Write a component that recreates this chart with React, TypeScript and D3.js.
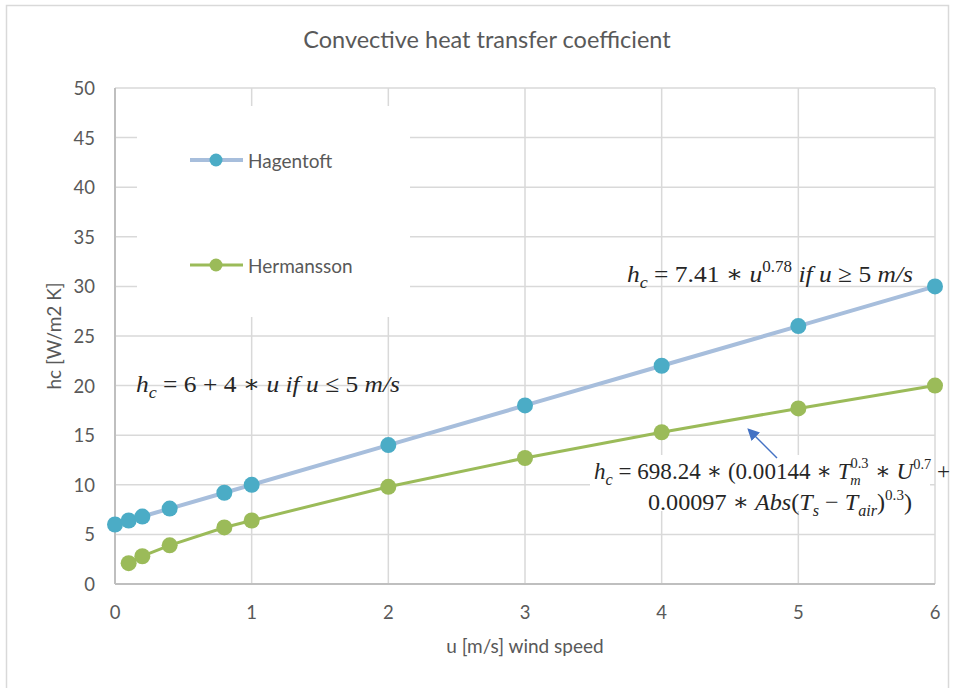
import * as d3 from 'd3';
import React from 'react';

// ------------------------------------------------------------
// data
// ------------------------------------------------------------
const hagentoftU = [0, 0.1, 0.2, 0.4, 0.8, 1, 2, 3, 4, 5, 6];
const hagentoftHc = [6, 6.4, 6.8, 7.6, 9.2, 10, 14, 18, 22, 26, 30];

const hermanssonU = [0.1, 0.2, 0.4, 0.8, 1, 2, 3, 4, 5, 6];
const hermanssonHc = [2.1, 2.8, 3.9, 5.7, 6.4, 9.8, 12.7, 15.3, 17.7, 20.0];

const xTicks = [0, 1, 2, 3, 4, 5, 6];
const yTicks = [0, 5, 10, 15, 20, 25, 30, 35, 40, 45, 50];

const seriesNames = ['Hagentoft', 'Hermansson'];

const W = 956;
const H = 688;
const margin = { left: 115, right: 21, top: 88, bottom: 104 };

const uiFont = 'Lato, "Open Sans", sans-serif';
const mathFont = '"Liberation Serif", "DejaVu Serif", serif';
const labelColor = '#595959';

function App() {
  const x = d3.scaleLinear([0, 6], [margin.left, W - margin.right]);
  const y = d3.scaleLinear([0, 50], [H - margin.bottom, margin.top]);

  const hagentoft = hagentoftU.map((u, i) => [u, hagentoftHc[i]] as [number, number]);
  const hermansson = hermanssonU.map((u, i) => [u, hermanssonHc[i]] as [number, number]);

  const line = d3.line<[number, number]>()
    .x(d => x(d[0]))
    .y(d => y(d[1]));

  const series = [
    { name: seriesNames[0], data: hagentoft, stroke: '#a7bedc', width: 4, marker: '#4bacc6' },
    { name: seriesNames[1], data: hermansson, stroke: '#9bbb59', width: 3, marker: '#9bbb59' }
  ];

  const [x0, x1] = x.range();
  const [y0, y1] = y.range();

  // legend + lower formula sit on white boxes that hide the grid
  const legendBox = { x: 137, y: 106, w: 273, h: 211 };
  const formulaBox = { x: 590, y: 455, w: 340, h: 56 };

  return (
    <svg width={W} height={H} style={{ position: 'absolute', left: 0, top: 0 }}>
      <defs>
        <marker id="arrowHead" viewBox="0 0 10 10" refX="8" refY="5"
          markerWidth="8" markerHeight="8" orient="auto-start-reverse">
          <path d="M0,0 L10,5 L0,10 z" fill="#4472c4" />
        </marker>
      </defs>

      <rect width={W} height={H} fill="#fff" />
      <rect x={6.5} y={5.5} width={942} height={720} fill="none" stroke="#d9d9d9" strokeWidth={1.5} />

      <text x={487} y={42} textAnchor="middle" dominantBaseline="middle"
        fontFamily={uiFont} fontSize={23.5} fill={labelColor}>
        Convective heat transfer coefficient
      </text>

      {/* grid */}
      <g stroke="#d9d9d9" strokeWidth={1.5}>
        {yTicks.filter(t => t > 0).map(t => (
          <line key={'gy' + t} x1={x0} x2={x1} y1={y(t)} y2={y(t)} />
        ))}
        {xTicks.filter(t => t > 0).map(t => (
          <line key={'gx' + t} x1={x(t)} x2={x(t)} y1={y0} y2={y1} />
        ))}
      </g>

      <rect x={legendBox.x} y={legendBox.y} width={legendBox.w} height={legendBox.h} fill="#fff" />

      {/* axes */}
      <g stroke="#bfbfbf" strokeWidth={2}>
        <line x1={x0} x2={x0} y1={y0} y2={y1} />
        <line x1={x0} x2={x1} y1={y0} y2={y0} />
      </g>

      <g fontFamily={uiFont} fontSize={18.5} fill={labelColor}>
        {yTicks.map(t => (
          <text key={'ty' + t} x={x0 - 20} y={y(t)} textAnchor="end" dominantBaseline="central">{t}</text>
        ))}
        {xTicks.map(t => (
          <text key={'tx' + t} x={x(t)} y={y0 + 28} textAnchor="middle" dominantBaseline="central">{t}</text>
        ))}
        <text x={(x0 + x1) / 2} y={645} fontSize={19} textAnchor="middle" dominantBaseline="central">u [m/s] wind speed</text>
        <text transform={`translate(53,${(y0 + y1) / 2}) rotate(-90)`} fontSize={19} textAnchor="middle"
          dominantBaseline="central">hc [W/m2 K]</text>
      </g>

      {/* series */}
      {series.map(s => (
        <g key={s.name}>
          <path d={line(s.data) || ''} fill="none" stroke={s.stroke} strokeWidth={s.width} />
          {s.data.map((d, i) => (
            <circle key={i} cx={x(d[0])} cy={y(d[1])} r={8} fill={s.marker} />
          ))}
        </g>
      ))}

      {/* legend */}
      {series.map((s, i) => {
        const ly = [160, 265][i];
        return (
          <g key={'lg' + s.name}>
            <line x1={190} x2={243} y1={ly} y2={ly} stroke={s.stroke} strokeWidth={s.width} />
            <circle cx={216} cy={ly} r={6.5} fill={s.marker} />
            <text x={248} y={ly} dominantBaseline="central" fontFamily={uiFont}
              fontSize={19} fill={labelColor}>{s.name}</text>
          </g>
        );
      })}

      {/* formulas */}
      <g fontFamily={mathFont} fontSize={24} fill="#262626">
        <text x={627} y={282} textLength={286} lengthAdjust="spacingAndGlyphs">
          <tspan fontStyle="italic">h</tspan>
          <tspan fontStyle="italic" fontSize={17} dy={6}>c</tspan>
          <tspan dy={-6}> = 7.41 ∗ </tspan>
          <tspan fontStyle="italic">u</tspan>
          <tspan fontSize={16} dy={-10}>0.78</tspan>
          <tspan fontStyle="italic" dy={10}> if u </tspan>
          <tspan>≥ 5 </tspan>
          <tspan fontStyle="italic">m/s</tspan>
        </text>

        <text x={136} y={392} textLength={264} lengthAdjust="spacingAndGlyphs">
          <tspan fontStyle="italic">h</tspan>
          <tspan fontStyle="italic" fontSize={17} dy={6}>c</tspan>
          <tspan dy={-6}> = 6 + 4 ∗ </tspan>
          <tspan fontStyle="italic">u if u </tspan>
          <tspan>≤ 5 </tspan>
          <tspan fontStyle="italic">m/s</tspan>
        </text>

        <rect x={formulaBox.x} y={formulaBox.y} width={formulaBox.w} height={formulaBox.h} fill="#fff" />

        <text x={594} y={479} textLength={356} lengthAdjust="spacingAndGlyphs">
          <tspan fontStyle="italic">h</tspan>
          <tspan fontStyle="italic" fontSize={17} dy={6}>c</tspan>
          <tspan dy={-6}> = 698.24 ∗ (0.00144 ∗ </tspan>
          <tspan fontStyle="italic">T</tspan>
          <tspan fontSize={15} dy={-11}>0.3</tspan>
          <tspan fontStyle="italic" fontSize={15} dx={-19} dy={17}>m</tspan>
          <tspan dx={9} dy={-6}> ∗ </tspan>
          <tspan fontStyle="italic">U</tspan>
          <tspan fontSize={15} dy={-10}>0.7</tspan>
          <tspan dy={10}> +</tspan>
        </text>
        <text x={648} y={510} textLength={264} lengthAdjust="spacingAndGlyphs">
          <tspan>0.00097 ∗ </tspan>
          <tspan fontStyle="italic">Abs</tspan>
          <tspan>(</tspan>
          <tspan fontStyle="italic">T</tspan>
          <tspan fontStyle="italic" fontSize={16} dy={6}>s</tspan>
          <tspan dy={-6}> − </tspan>
          <tspan fontStyle="italic">T</tspan>
          <tspan fontStyle="italic" fontSize={16} dy={6}>air</tspan>
          <tspan dy={-6}>)</tspan>
          <tspan fontSize={15} dy={-10}>0.3</tspan>
          <tspan dy={10}>)</tspan>
        </text>
      </g>

      <line x1={777} y1={458} x2={749} y2={430} stroke="#4472c4" strokeWidth={1.5}
        markerEnd="url(#arrowHead)" />
    </svg>
  );
}

export default App;
